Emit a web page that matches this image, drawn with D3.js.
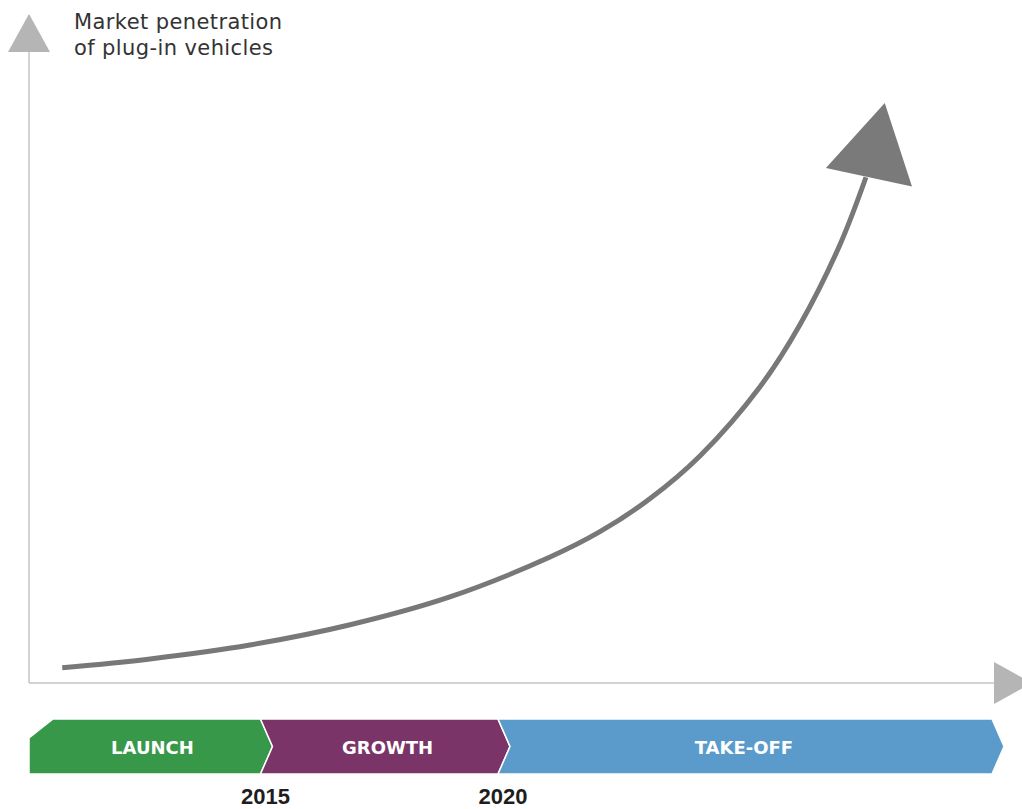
<!DOCTYPE html>
<html>
<head>
    <meta charset="utf-8">
    <title>Market penetration of plug-in vehicles</title>
    <style>
        body, html {
            margin: 0;
            background: #fff;
        }
        .title {
            font: 21px "DejaVu Sans", sans-serif;
            letter-spacing: 0.4px;
            fill: #333;
        }
        .phase {
            font: bold 18px "DejaVu Sans", sans-serif;
            fill: #fff;
            text-anchor: middle;
        }
        .year {
            font: bold 22px "Liberation Sans", Arial, sans-serif;
            fill: #1e1e1e;
            text-anchor: middle;
        }
    </style>
    <script src="https://d3js.org/d3.v7.min.js"></script>
</head>
<body>
    <svg width="1022" height="809"></svg>
    <script>
        // curve: year vs. penetration (arbitrary units, 0-100)
        const curveYears  = [2010.7, 2012.55, 2014.65, 2016.76, 2018.86, 2020.97, 2022.02, 2023.07, 2024.13, 2025.39, 2026.23, 2027.07, 2027.62];
        const curveValues = [2.4, 3.8, 6.0, 9.2, 13.6, 19.9, 23.9, 29.1, 35.9, 46.8, 56.6, 69.2, 79.9];

        const phaseNames = ["LAUNCH", "GROWTH", "TAKE-OFF"];
        const phaseStart = [2010, 2015, 2020];
        const phaseEnd   = [2015, 2020, 2030.4];
        const phaseLabelAt = [2012.6, 2017.55, 2025.05];
        const phaseColors = ["#38984a", "#7a3468", "#5a9bcb"];
        const yearLabels = [2015, 2020];

        const svg = d3.select('svg');
        const x = d3.scaleLinear().domain([2010, 2020]).range([29, 504]);
        const y = d3.scaleLinear().domain([0, 100]).range([683, 50]);

        const axisColor = '#c4c4c4';
        const axisArrow = '#b5b5b5';

        // axes
        svg.append('line')
            .attr('x1', x(2010)).attr('x2', x(2010))
            .attr('y1', 50).attr('y2', y(0))
            .attr('stroke', axisColor).attr('stroke-width', 1.5);
        svg.append('line')
            .attr('x1', x(2010)).attr('x2', 996)
            .attr('y1', y(0)).attr('y2', y(0))
            .attr('stroke', axisColor).attr('stroke-width', 1.5);
        svg.append('path')
            .attr('d', `M${x(2010)},14 L${x(2010) + 21},52 L${x(2010) - 21},52 Z`)
            .attr('fill', axisArrow);
        svg.append('path')
            .attr('d', `M994,${y(0) - 21} L1032,${y(0)} L994,${y(0) + 21} Z`)
            .attr('fill', axisArrow);

        // title
        const title = svg.append('text').attr('class', 'title');
        title.append('tspan').attr('x', 74).attr('y', 29).text('Market penetration');
        title.append('tspan').attr('x', 74).attr('y', 55).text('of plug-in vehicles');

        // growth curve
        const pts = curveYears.map((d, i) => [x(d), y(curveValues[i])]);
        const line = d3.line().curve(d3.curveCatmullRom.alpha(0.5));
        svg.append('path')
            .attr('d', line(pts))
            .attr('fill', 'none')
            .attr('stroke', '#787878')
            .attr('stroke-width', 5);

        // arrow head at the end of the curve
        const end = pts[pts.length - 1];
        const ang = -78;
        svg.append('path')
            .attr('d', 'M0,-44 L76,0 L0,44 Z')
            .attr('transform', `translate(${end[0] + 3},${end[1]}) rotate(${ang})`)
            .attr('fill', '#7a7a7a');

        // phase band
        const bandTop = 719, bandBot = 774, bandMid = (bandTop + bandBot) / 2, notch = 6;
        const band = svg.append('g');
        phaseNames.forEach((name, i) => {
            const x0 = x(phaseStart[i]), x1 = x(phaseEnd[i]);
            let p;
            if (i === 0) {
                p = [[x0 + 24, bandTop], [x1 - notch, bandTop], [x1 + notch, bandMid], [x1 - notch, bandBot], [x0, bandBot], [x0, bandTop + 19]];
            } else {
                p = [[x0 - notch, bandTop], [x1 - notch, bandTop], [x1 + notch, bandMid], [x1 - notch, bandBot], [x0 - notch, bandBot], [x0 + notch, bandMid]];
            }
            band.append('path')
                .attr('d', 'M' + p.join('L') + 'Z')
                .attr('fill', phaseColors[i])
                .attr('stroke', '#fff')
                .attr('stroke-width', 1.5);
            band.append('text')
                .attr('class', 'phase')
                .attr('x', x(phaseLabelAt[i]))
                .attr('y', bandMid + 7)
                .text(name);
        });

        svg.selectAll('.year')
            .data(yearLabels)
            .enter().append('text')
            .attr('class', 'year')
            .attr('x', d => x(d) - 1)
            .attr('y', 804)
            .text(d => d);
    </script>
</body>
</html>
